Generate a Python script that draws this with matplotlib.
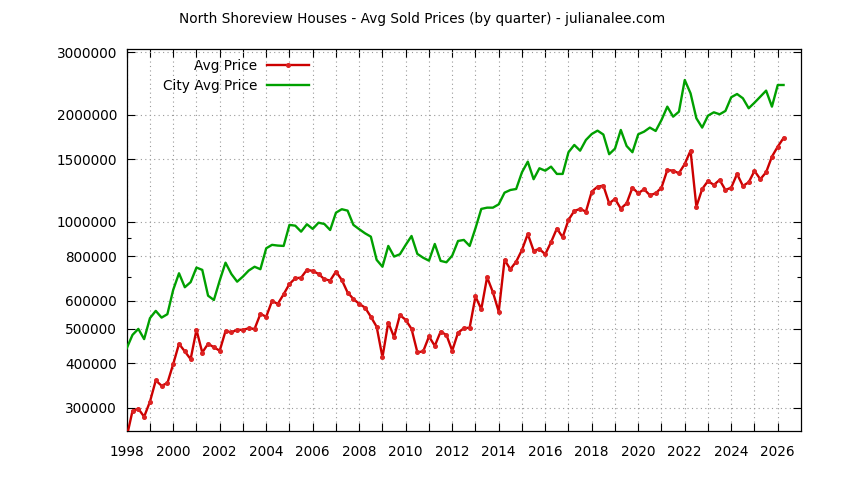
import matplotlib
matplotlib.use("Agg")
import matplotlib.pyplot as plt
from matplotlib.ticker import FixedLocator, NullFormatter
import numpy as np

# quarterly data, first quarter of 1998 through 2nd quarter of 2026
start_year = 1998

avg_price = [
    248000, 294000, 298000, 283000,
    312000, 358000, 346000, 352000,
    398000, 454000, 432000, 411000,
    497000, 429000, 454000, 444000,
    434000, 493000, 489000, 497000,
    497000, 502000, 500000, 551000,
    541000, 599000, 588000, 626000,
    669000, 694000, 697000, 733000,
    728000, 714000, 690000, 684000,
    725000, 687000, 633000, 607000,
    588000, 574000, 541000, 507000,
    416000, 521000, 474000, 547000,
    530000, 500000, 430000, 432000,
    476000, 448000, 491000, 481000,
    434000, 488000, 502000, 504000,
    617000, 568000, 699000, 634000,
    559000, 782000, 736000, 773000,
    834000, 925000, 830000, 839000,
    811000, 877000, 958000, 906000,
    1013000, 1074000, 1088000, 1069000,
    1217000, 1257000, 1265000, 1128000,
    1161000, 1090000, 1128000, 1249000,
    1204000, 1236000, 1189000, 1204000,
    1249000, 1400000, 1394000, 1371000,
    1456000, 1587000, 1104000, 1238000,
    1304000, 1271000, 1313000, 1230000,
    1249000, 1365000, 1263000, 1293000,
    1392000, 1319000, 1380000, 1527000,
    1629000, 1723000,
]

city_avg_price = [
    441000, 481000, 500000, 468000,
    536000, 562000, 538000, 550000,
    644000, 717000, 655000, 677000,
    744000, 733000, 620000, 603000,
    684000, 768000, 714000, 679000,
    702000, 730000, 748000, 736000,
    843000, 862000, 858000, 856000,
    981000, 976000, 939000, 985000,
    956000, 995000, 987000, 949000,
    1062000, 1086000, 1076000, 981000,
    954000, 929000, 909000, 782000,
    748000, 856000, 799000, 811000,
    862000, 913000, 813000, 793000,
    778000, 867000, 777000, 770000,
    804000, 884000, 890000, 856000,
    960000, 1088000, 1097000, 1097000,
    1121000, 1209000, 1230000, 1238000,
    1380000, 1478000, 1319000, 1416000,
    1394000, 1431000, 1365000, 1365000,
    1571000, 1647000, 1587000, 1701000,
    1768000, 1807000, 1762000, 1551000,
    1608000, 1815000, 1636000, 1571000,
    1765000, 1795000, 1843000, 1803000,
    1936000, 2111000, 1978000, 2043000,
    2509000, 2301000, 1958000, 1843000,
    1991000, 2035000, 2009000, 2053000,
    2244000, 2291000, 2229000, 2089000,
    2166000, 2252000, 2342000, 2111000,
    2429000, 2429000,
]

y_major = [300000, 400000, 500000, 600000, 800000, 1000000, 1500000, 2000000, 3000000]
y_minor = [700000, 900000]
x_labels = list(range(1998, 2027, 2))

quarters = start_year + np.arange(len(avg_price)) * 0.25

plt.rcParams['font.family'] = ['DejaVu Sans']
fig = plt.figure(figsize=(8.44, 4.80), dpi=100)
ax = fig.add_axes([126.7 / 844, 1 - 431 / 480, (801 - 126.7) / 844, (431 - 48.5) / 480])

ax.plot(quarters, avg_price, color='#cc0000', lw=1.7, marker='o', ms=2.6,
        mfc='#dd2222', mec='#dd2222', label='Avg Price', zorder=3)
ax.plot(quarters, city_avg_price, color='#00a000', lw=1.7, label='City Avg Price', zorder=3)

ax.set_yscale('log')
ax.set_ylim(258000, 3077000)
ax.set_xlim(1998, 2027)

ax.yaxis.set_major_locator(FixedLocator(y_major))
ax.yaxis.set_minor_locator(FixedLocator(y_minor))
ax.set_yticklabels([str(v) for v in y_major])
ax.yaxis.set_minor_formatter(NullFormatter())

ax.xaxis.set_major_locator(FixedLocator(x_labels))
ax.xaxis.set_minor_locator(FixedLocator(range(1999, 2027, 2)))
ax.set_xticklabels([str(v) for v in x_labels])

ax.tick_params(which='both', direction='in', top=True, right=True, labelsize=9.8, width=0.8)
ax.tick_params(axis='y', which='major', length=6, pad=7)
ax.tick_params(axis='y', which='minor', length=3)
ax.tick_params(axis='x', which='both', length=6, pad=10)

ax.grid(True, which='major', axis='y', color='#999999', ls=(0, (1, 3)), lw=0.8)
ax.grid(True, which='both', axis='x', color='#999999', ls=(0, (1, 3)), lw=0.8)
for s in ax.spines.values():
    s.set_linewidth(0.9)

ax.legend(loc='upper left', bbox_to_anchor=(163 / 844, 1 - 59 / 480), bbox_transform=fig.transFigure,
          markerfirst=False, frameon=False, fontsize=9.8, handlelength=3.1,
          handletextpad=0.7, labelspacing=0.45, borderpad=0, borderaxespad=0)

fig.text(0.5, 1 - 19 / 480, 'North Shoreview Houses - Avg Sold Prices (by quarter) - julianalee.com',
         ha='center', va='center', fontsize=9.8)

fig.savefig('out.png', dpi=100)
